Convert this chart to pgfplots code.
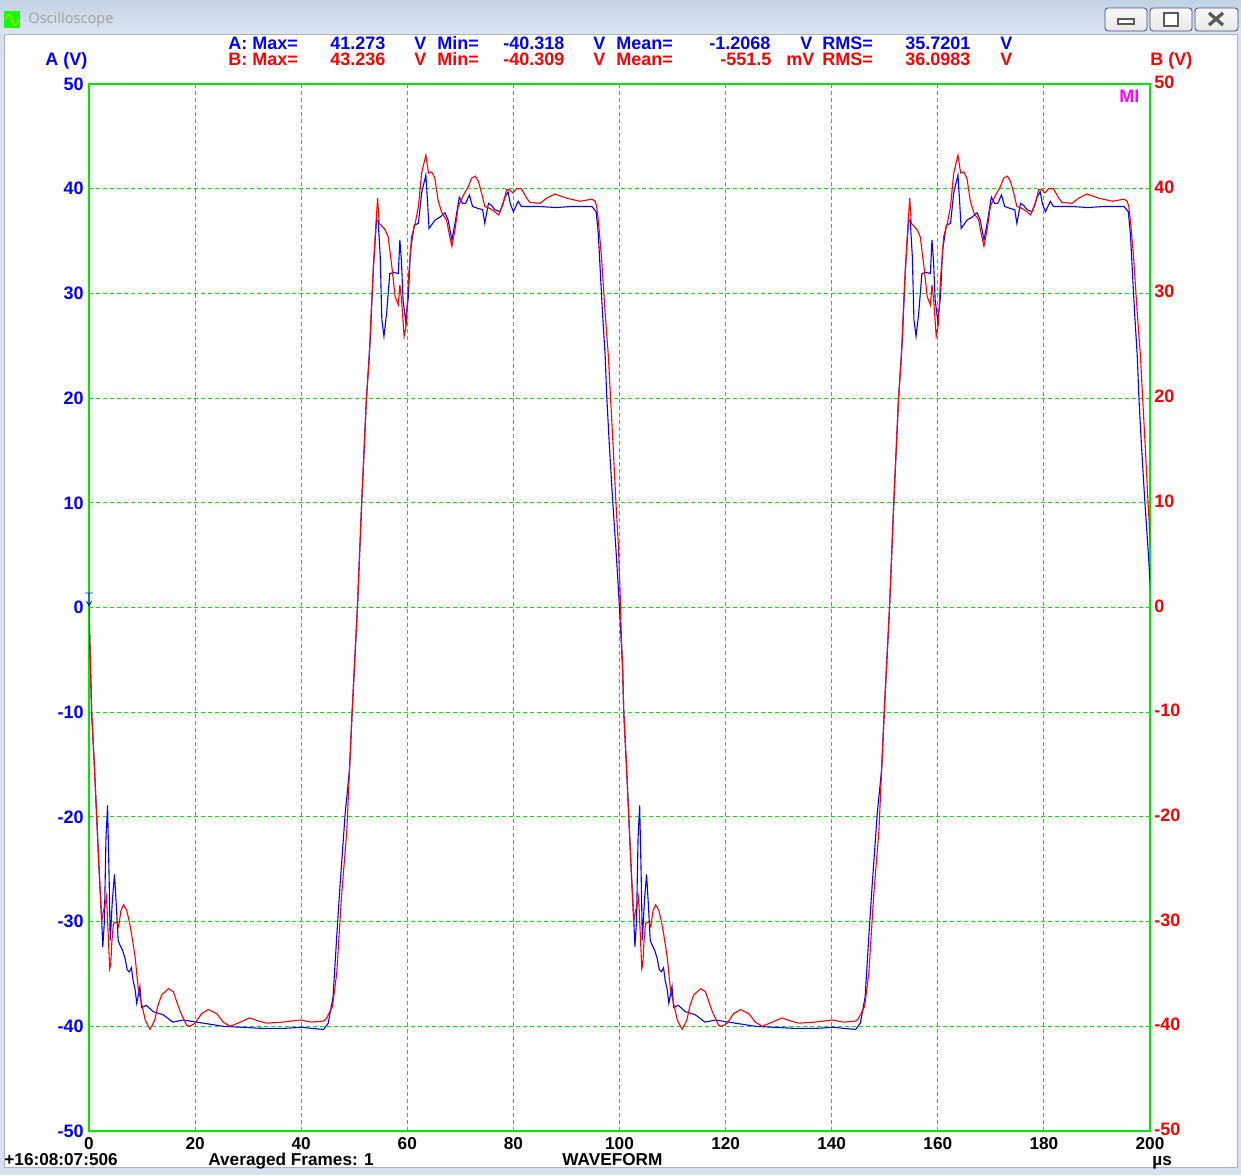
\documentclass[border=0pt]{standalone}
\usepackage{pgfplots}
\pgfplotsset{compat=1.18}
\usepackage{fontspec}
\setmainfont{Liberation Sans}
\newfontfamily\titlefont{Open Sans}
\definecolor{gg}{RGB}{0,232,0}
\definecolor{framebg}{RGB}{214,226,239}
\definecolor{tbtop}{RGB}{194,210,228}
\definecolor{tbbot}{RGB}{219,230,242}
\definecolor{chA}{RGB}{0,0,255}
\definecolor{chB}{RGB}{255,0,0}
\definecolor{mag}{RGB}{255,0,255}
\newcommand\tfont{\bfseries\fontsize{9}{10}\selectfont}
\newcommand\bfont{\bfseries\fontsize{8.6}{9}\selectfont}
\begin{document}
\begin{tikzpicture}[x=0.5pt,y=0.5pt]
% window chrome
\fill[framebg] (0,0) rectangle (1241,1175);
\shade[top color=tbtop, bottom color=tbbot] (0,1140) rectangle (1241,1175);
\fill[white] (4,8) rectangle (1237,1140);
\draw[gray!60, line width=0.5pt] (4,8) rectangle (1237,1140);
% icon
\fill[green!90!lime] (4,1147) rectangle (20,1164);
\draw[yellow!80!olive, line width=0.5pt] (5,1155) .. controls (8,1162) and (10,1162) .. (12,1155) .. controls (14,1148) and (16,1148) .. (19,1155);
\node[anchor=west, inner sep=0pt, text=gray!75] at (28,1155) {\titlefont\fontsize{7.3}{8}\selectfont Oscilloscope};
% buttons
\foreach \xa/\xb in {1105/1147,1150/1192,1195/1238}{
  \shade[top color=white!95!gray, bottom color=gray!18, rounded corners=1.5pt, draw=gray!70!blue!80!black, line width=0.4pt] (\xa,1144) rectangle (\xb,1167);
}
\draw[gray!70!black, line width=0.6pt, fill=white] (1118,1151) rectangle (1134,1156);
\draw[gray!70!black, line width=0.8pt, fill=white] (1164,1149) rectangle (1178,1162);
\draw[gray!70!black, line width=1.6pt] (1209,1150) -- (1223,1162) (1209,1162) -- (1223,1150);
% main axis
\begin{axis}[
  at={(44.5pt,22pt)}, anchor=south west,
  width=530.5pt, height=523.5pt, scale only axis,
  xmin=0, xmax=200, ymin=-50, ymax=50,
  xtick={0,20,...,200}, ytick={-50,-40,...,50},
  grid=major,
  major grid style={draw=gg, dash pattern=on 2pt off 1.5pt, line width=0.5pt},
  axis line style={draw=gg, line width=0.8pt},
  tick style={draw=none}, major tick length=0pt,
  /pgf/number format/assume math mode=true,
  xticklabel style={font=\bfont, text=black, inner sep=0pt, anchor=north, yshift=-3pt},
  yticklabel style={font=\tfont, text=chA, inner sep=0pt, anchor=east, xshift=-2.5pt},
]
\addplot[chA, line width=0.55pt] coordinates {
(0,0) (0.1,-2) (0.3,-6) (0.5,-10) (1.0,-15) (1.45,-20) (1.9,-25) (2.4,-30) (2.6,-32.4) (2.9,-30) (3.2,-22) (3.5,-18.9) (3.8,-26) (4.0,-31.8) (4.4,-28) (4.8,-25.5) (5.1,-28) (5.5,-31.8) (5.8,-32.2) (6.3,-32.7) (6.8,-33.5) (7.2,-34.6) (7.6,-34.8) (8.0,-34.4) (8.3,-35.6) (8.7,-36.5) (9.0,-37.8) (9.6,-36.2) (9.9,-38.2) (10.8,-38.0) (12.1,-38.6) (14.0,-38.9) (15.8,-39.6) (17.8,-39.4) (20.9,-39.65) (25.3,-40.0) (32.8,-40.2) (36.6,-40.2) (40.0,-40.1) (44.2,-40.3) (45.1,-39.7) (46.0,-37.2) (46.7,-31.4) (47.3,-26.7) (48.3,-19.6) (49.1,-15.5) (49.6,-10) (50.6,0) (51.4,10) (52.3,20) (53.0,25.5) (53.6,32.5) (54.2,37.0) (54.5,37.0) (54.9,33.5) (55.2,27.5) (55.6,25.9) (56.1,28.1) (56.7,31.9) (57.5,32.0) (58.3,31.9) (58.6,35.1) (58.9,33.0) (59.2,29.4) (59.7,27.3) (60.2,29.7) (60.6,34.1) (61.3,36.5) (62.1,36.7) (62.7,39.6) (63.5,41.3) (63.8,38.9) (64.1,36.2) (65.2,37.0) (66.2,37.3) (67.1,37.7) (67.7,37.0) (68.4,35.1) (69.0,36.7) (69.8,39.2) (70.4,38.6) (71.0,38.6) (71.7,39.4) (72.3,38.3) (73.4,38.1) (74.2,38.0) (74.6,36.7) (75.3,38.6) (75.9,38.4) (76.5,38.0) (77.5,37.8) (78.4,39.2) (79.0,39.7) (79.4,38.6) (80.0,37.8) (80.9,38.8) (81.5,38.3) (85.0,38.3) (88.0,38.2) (91.0,38.3) (94.8,38.3) (95.6,37.8) (96.0,35.7) (96.4,31.9) (96.8,28.1) (97.3,24.0) (97.6,20.1) (98.1,15.4) (98.7,10.3) (99.3,5.8) (99.8,1.7) (100.2,-2)
(100.6,-6) (100.8,-10) (101.3,-15) (101.75,-20) (102.2,-25) (102.7,-30) (102.9,-32.4) (103.2,-30) (103.5,-22) (103.8,-18.9) (104.1,-26) (104.3,-31.8) (104.7,-28) (105.1,-25.5) (105.4,-28) (105.8,-31.8) (106.1,-32.2) (106.6,-32.7) (107.1,-33.5) (107.5,-34.6) (107.9,-34.8) (108.3,-34.4) (108.6,-35.6) (109.0,-36.5) (109.3,-37.8) (109.9,-36.2) (110.2,-38.2) (111.1,-38.0) (112.4,-38.6) (114.3,-38.9) (116.1,-39.6) (118.1,-39.4) (121.2,-39.65) (125.6,-40.0) (133.1,-40.2) (136.9,-40.2) (140.3,-40.1) (144.5,-40.3) (145.4,-39.7) (146.3,-37.2) (147.0,-31.4) (147.6,-26.7) (148.6,-19.6) (149.4,-15.5) (149.9,-10) (150.9,0) (151.7,10) (152.6,20) (153.3,25.5) (153.9,32.5) (154.5,37.0) (154.8,37.0) (155.2,33.5) (155.5,27.5) (155.9,25.9) (156.4,28.1) (157.0,31.9) (157.8,32.0) (158.6,31.9) (158.9,35.1) (159.2,33.0) (159.5,29.4) (160.0,27.3) (160.5,29.7) (160.9,34.1) (161.6,36.5) (162.4,36.7) (163.0,39.6) (163.8,41.3) (164.1,38.9) (164.4,36.2) (165.5,37.0) (166.5,37.3) (167.4,37.7) (168.0,37.0) (168.7,35.1) (169.3,36.7) (170.1,39.2) (170.7,38.6) (171.3,38.6) (172.0,39.4) (172.6,38.3) (173.7,38.1) (174.5,38.0) (174.9,36.7) (175.6,38.6) (176.2,38.4) (176.8,38.0) (177.8,37.8) (178.7,39.2) (179.3,39.7) (179.7,38.6) (180.3,37.8) (181.2,38.8) (181.8,38.3) (185.3,38.3) (188.3,38.2) (191.3,38.3) (195.1,38.3) (195.9,37.8) (196.3,35.7) (196.7,31.9) (197.1,28.1) (197.6,24.0) (197.9,20.1) (198.4,15.4) (199.0,10.3) (199.6,5.8) (200.1,1.7)
};
\addplot[chB, line width=0.55pt] coordinates {
(0,0) (0.1,-2) (0.3,-6) (0.5,-10) (1.0,-15) (1.45,-20) (1.9,-25) (2.4,-30) (2.7,-29) (3.0,-28.5) (3.3,-27.6) (3.6,-31) (3.9,-34.5) (4.1,-34.1) (4.3,-32) (4.6,-30.2) (5.2,-30) (5.6,-30.5) (6.0,-29) (6.5,-28.4) (7.1,-28.9) (7.6,-30) (8.0,-31.1) (8.7,-33.4) (9.3,-36.5) (9.9,-37.8) (10.6,-39.4) (11.5,-40.3) (12.4,-39.4) (13.0,-38.0) (13.7,-37.0) (15.0,-36.4) (15.9,-36.7) (16.5,-37.6) (17.2,-38.6) (18.4,-39.9) (19.0,-40.0) (20.0,-39.7) (21.2,-38.8) (22.5,-38.4) (24.1,-38.8) (25.3,-39.6) (26.6,-40.0) (28.5,-39.6) (30.3,-39.2) (32.0,-39.5) (33.5,-39.7) (36.5,-39.6) (39.8,-39.4) (42.0,-39.6) (44.2,-39.5) (44.7,-39.3) (45.9,-38.1) (46.7,-34.9) (47.6,-27.6) (48.6,-21.3) (49.6,-10) (50.6,0) (51.4,10) (52.3,20) (52.8,23.6) (53.3,29.4) (53.9,35.1) (54.4,39.1) (54.7,36.7) (55.8,36.1) (56.4,35.4) (57.1,32.5) (57.7,29.7) (58.3,28.9) (58.6,30.8) (58.9,29.5) (59.4,25.9) (59.8,27.0) (60.2,31.3) (60.8,35.4) (61.5,36.7) (62.1,38.3) (62.7,41.5) (63.5,43.2) (64.0,41.5) (64.6,41.6) (65.2,41.0) (65.8,38.9) (66.5,37.7) (67.4,37.0) (68.0,35.4) (68.4,34.5) (69.0,36.1) (69.6,38.3) (70.6,39.4) (71.5,40.2) (72.1,41.0) (72.8,41.2) (73.4,40.7) (74.0,39.6) (74.6,38.3) (75.6,38.1) (76.5,37.8) (77.2,37.5) (78.1,38.6) (78.7,39.9) (79.3,39.9) (79.9,39.6) (80.6,40.0) (81.5,40.0) (82.5,39.1) (83.1,38.7) (85.0,38.6) (86.3,39.1) (87.8,39.5) (90.0,39.1) (92.6,38.8) (94.8,39.0) (95.4,38.8) (95.7,38.3) (96.0,37.0) (96.6,33.5) (97.3,28.1) (97.9,24.0) (98.3,20.1) (98.8,15.4) (99.3,10.3) (99.8,5.8) (100.1,1.7) (100.3,-2)
(100.6,-6) (100.8,-10) (101.3,-15) (101.75,-20) (102.2,-25) (102.7,-30) (103.0,-29) (103.3,-28.5) (103.6,-27.6) (103.9,-31) (104.2,-34.5) (104.4,-34.1) (104.6,-32) (104.9,-30.2) (105.5,-30) (105.9,-30.5) (106.3,-29) (106.8,-28.4) (107.4,-28.9) (107.9,-30) (108.3,-31.1) (109.0,-33.4) (109.6,-36.5) (110.2,-37.8) (110.9,-39.4) (111.8,-40.3) (112.7,-39.4) (113.3,-38.0) (114.0,-37.0) (115.3,-36.4) (116.2,-36.7) (116.8,-37.6) (117.5,-38.6) (118.7,-39.9) (119.3,-40.0) (120.3,-39.7) (121.5,-38.8) (122.8,-38.4) (124.4,-38.8) (125.6,-39.6) (126.9,-40.0) (128.8,-39.6) (130.6,-39.2) (132.3,-39.5) (133.8,-39.7) (136.8,-39.6) (140.1,-39.4) (142.3,-39.6) (144.5,-39.5) (145.0,-39.3) (146.2,-38.1) (147.0,-34.9) (147.9,-27.6) (148.9,-21.3) (149.9,-10) (150.9,0) (151.7,10) (152.6,20) (153.1,23.6) (153.6,29.4) (154.2,35.1) (154.7,39.1) (155.0,36.7) (156.1,36.1) (156.7,35.4) (157.4,32.5) (158.0,29.7) (158.6,28.9) (158.9,30.8) (159.2,29.5) (159.7,25.9) (160.1,27.0) (160.5,31.3) (161.1,35.4) (161.8,36.7) (162.4,38.3) (163.0,41.5) (163.8,43.2) (164.3,41.5) (164.9,41.6) (165.5,41.0) (166.1,38.9) (166.8,37.7) (167.7,37.0) (168.3,35.4) (168.7,34.5) (169.3,36.1) (169.9,38.3) (170.9,39.4) (171.8,40.2) (172.4,41.0) (173.1,41.2) (173.7,40.7) (174.3,39.6) (174.9,38.3) (175.9,38.1) (176.8,37.8) (177.5,37.5) (178.4,38.6) (179.0,39.9) (179.6,39.9) (180.2,39.6) (180.9,40.0) (181.8,40.0) (182.8,39.1) (183.4,38.7) (185.3,38.6) (186.6,39.1) (188.1,39.5) (190.3,39.1) (192.9,38.8) (195.1,39.0) (195.7,38.8) (196.0,38.3) (196.3,37.0) (196.9,33.5) (197.6,28.1) (198.2,24.0) (198.6,20.1) (199.1,15.4) (199.6,10.3) (200.1,5.8)
};
\end{axis}
% right axis labels
\begin{axis}[
  at={(44.5pt,22pt)}, anchor=south west,
  width=530.5pt, height=523.5pt, scale only axis,
  xmin=0, xmax=200, ymin=-50, ymax=50,
  axis x line=none, axis y line*=right,
  axis line style={draw=none},
  ytick={-50,-40,...,50},
  tick style={draw=none}, major tick length=0pt,
  /pgf/number format/assume math mode=true,
  yticklabel style={font=\tfont, text=chB, inner sep=0pt, anchor=west, xshift=2pt, yshift=0.8pt},
]
\end{axis}
% channel marker at 0 V
\draw[chA, line width=0.4pt] (85,582) -- (93,582) (89,582) -- (89,569) (86.5,574) -- (89,569) -- (91.5,574);
% header
\begin{scope}[every node/.style={anchor=base west, inner sep=0pt, font=\tfont}]
\node[text=chA] at (228,1125) {A: Max=};
\node[text=chA] at (330,1125) {41.273};
\node[text=chA] at (414,1125) {V};
\node[text=chA] at (437,1125) {Min=};
\node[text=chA] at (503,1125) {-40.318};
\node[text=chA] at (593,1125) {V};
\node[text=chA] at (616,1125) {Mean=};
\node[text=chA] at (709,1125) {-1.2068};
\node[text=chA] at (800,1125) {V};
\node[text=chA] at (822,1125) {RMS=};
\node[text=chA] at (905,1125) {35.7201};
\node[text=chA] at (1000,1125) {V};
\node[text=chB] at (228,1109) {B: Max=};
\node[text=chB] at (330,1109) {43.236};
\node[text=chB] at (414,1109) {V};
\node[text=chB] at (437,1109) {Min=};
\node[text=chB] at (503,1109) {-40.309};
\node[text=chB] at (593,1109) {V};
\node[text=chB] at (616,1109) {Mean=};
\node[text=chB] at (720,1109) {-551.5};
\node[text=chB] at (786,1109) {mV};
\node[text=chB] at (822,1109) {RMS=};
\node[text=chB] at (905,1109) {36.0983};
\node[text=chB] at (1000,1109) {V};
\node[text=chA] at (45,1109) {A (V)};
\node[text=chB] at (1150,1109) {B (V)};
\node[text=mag] at (1119,1072) {MI};
\end{scope}
\begin{scope}[every node/.style={anchor=base west, inner sep=0pt, font=\bfont, text=black}]
\node at (4,10) {+16:08:07:506};
\node at (208,10) {Averaged Frames: 1};
\node at (562,10) {WAVEFORM};
\node at (1152,10) {µs};
\end{scope}
\pgfresetboundingbox
\useasboundingbox (0,0) rectangle (1241,1175);
\end{tikzpicture}
\end{document}
